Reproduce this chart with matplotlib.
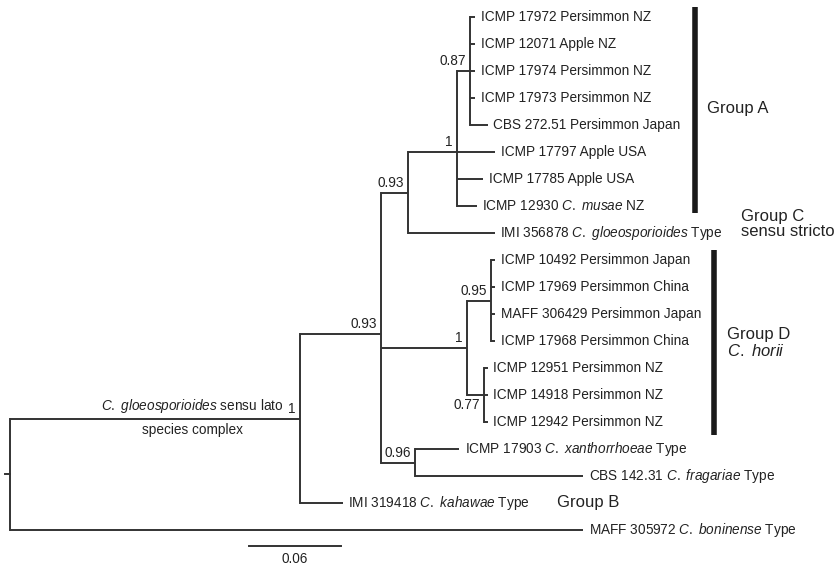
import matplotlib
matplotlib.use('Agg')
import matplotlib.pyplot as plt

plt.rcParams['font.family'] = ['Liberation Sans', 'DejaVu Sans']
plt.rcParams['mathtext.fontset'] = 'custom'
plt.rcParams['mathtext.rm'] = 'Liberation Sans'
plt.rcParams['mathtext.it'] = 'Liberation Sans:italic'
plt.rcParams['mathtext.bf'] = 'Liberation Sans:bold'

# ---- tree data (preorder) ----
node_ids = list(range(30))
parents = [-1, 0, 1, 2, 3, 4, 5, 5, 5, 5, 5, 4, 4, 4, 3, 2, 15, 16, 16, 16, 16,
           15, 21, 21, 21, 2, 25, 25, 1, 0]
branch_lengths = [0.0, 0.1891, 0.0528, 0.0176, 0.0320, 0.0085,
                  0.0033, 0.0033, 0.0033, 0.0033, 0.0117,
                  0.0248, 0.0170, 0.0130, 0.0567,
                  0.0561, 0.0157, 0.0026, 0.0026, 0.0026, 0.0026,
                  0.0111, 0.0026, 0.0026, 0.0026,
                  0.0222, 0.0287, 0.1096, 0.0280, 0.3737]
supports = ['', '1', '0.93', '0.93', '1', '0.87', '', '', '', '', '',
            '', '', '', '', '1', '0.95', '', '', '', '', '0.77', '', '', '',
            '0.96', '', '', '', '']
tip_labels = [None, None, None, None, None, None,
              'ICMP 17972 Persimmon NZ',
              'ICMP 12071 Apple NZ',
              'ICMP 17974 Persimmon NZ',
              'ICMP 17973 Persimmon NZ',
              'CBS 272.51 Persimmon Japan',
              'ICMP 17797 Apple USA',
              'ICMP 17785 Apple USA',
              r'ICMP 12930 $\mathit{C.\ musae}$ NZ',
              r'IMI 356878 $\mathit{C.\ gloeosporioides}$ Type',
              None, None,
              'ICMP 10492 Persimmon Japan',
              'ICMP 17969 Persimmon China',
              'MAFF 306429 Persimmon Japan',
              'ICMP 17968 Persimmon China',
              None,
              'ICMP 12951 Persimmon NZ',
              'ICMP 14918 Persimmon NZ',
              'ICMP 12942 Persimmon NZ',
              None,
              r'ICMP 17903 $\mathit{C.\ xanthorrhoeae}$ Type',
              r'CBS 142.31 $\mathit{C.\ fragariae}$ Type',
              r'IMI 319418 $\mathit{C.\ kahawae}$ Type',
              r'MAFF 305972 $\mathit{C.\ boninense}$ Type']
scale_bar_length = 0.06
scale_bar_label = '0.06'

# ---- layout ----
n = len(node_ids)
children = {i: [] for i in node_ids}
for i in node_ids:
    if parents[i] >= 0:
        children[parents[i]].append(i)
x = [0.0] * n
for i in node_ids:
    if parents[i] >= 0:
        x[i] = x[parents[i]] + branch_lengths[i]
y = [0.0] * n
leaf_counter = 0
for i in node_ids:
    if not children[i]:
        y[i] = leaf_counter
        leaf_counter += 1
for i in reversed(node_ids):
    if children[i]:
        y[i] = sum(y[c] for c in children[i]) / len(children[i])

k = 0.06 / 92.0  # data units per pixel
def px(v):
    return (v - 10) * k

fig = plt.figure(figsize=(8.4, 5.67), dpi=100)
ax = fig.add_axes([0, 0, 1, 1])
ax.set_xlim(px(0), px(840))
ax.set_ylim((567 - 17) / 27.0, -17 / 27.0)
ax.axis('off')

lc = '#333333'
lw = 1.4
tc = '#222222'
fs = 9.8

for i in node_ids:
    p = parents[i]
    if p >= 0:
        ax.plot([x[p], x[i]], [y[i], y[i]], color=lc, lw=lw, solid_capstyle='butt')
    if children[i]:
        ys = [y[c] for c in children[i]]
        ax.plot([x[i], x[i]], [min(ys), max(ys)], color=lc, lw=lw, solid_capstyle='projecting')
    if tip_labels[i]:
        ax.annotate(tip_labels[i], (x[i], y[i]), xytext=(4, 0), textcoords='offset points',
                    ha='left', va='center', fontsize=fs, color=tc)
    if supports[i]:
        below = supports[i] == '0.77'
        ax.annotate(supports[i], (x[i], y[i]), xytext=(-3, -2.5 if below else 2),
                    textcoords='offset points', ha='right',
                    va='top' if below else 'bottom', fontsize=fs, color=tc)

# root stub
ax.plot([x[0] - 5 * k, x[0]], [y[0], y[0]], color=lc, lw=lw)

# complex annotation
ax.text(px(283), (406 - 17) / 27.0, r'$\mathit{C.\ gloeosporioides}$ sensu lato',
        ha='right', va='center', fontsize=fs, color=tc)
ax.text(px(193), (430 - 17) / 27.0, 'species complex',
        ha='center', va='center', fontsize=fs, color=tc)

# group bars
ax.plot([px(695), px(695)], [-0.37, 7.26], color='#1a1a1a', lw=4, solid_capstyle='butt')
ax.plot([px(714), px(714)], [8.63, 15.48], color='#1a1a1a', lw=4, solid_capstyle='butt')

gfs = 12
ax.text(px(707), (108 - 17) / 27.0, 'Group A', ha='left', va='center', fontsize=gfs, color=tc)
ax.text(px(741), (224 - 17) / 27.0, 'Group C\nsensu stricto', ha='left', va='center',
        fontsize=gfs, color=tc, linespacing=1.05)
ax.text(px(727), (343 - 17) / 27.0, 'Group D\n' + r'$\mathit{C.\ horii}$', ha='left',
        va='center', fontsize=gfs, color=tc, linespacing=1.05)
ax.text(px(557), (503 - 17) / 27.0, 'Group B', ha='left', va='center', fontsize=gfs, color=tc)

# scale bar
sb_x0 = px(249)
sb_y = (546 - 17) / 27.0
ax.plot([sb_x0, sb_x0 + scale_bar_length], [sb_y, sb_y], color=lc, lw=lw)
ax.text(sb_x0 + scale_bar_length / 2, (559 - 17) / 27.0, scale_bar_label,
        ha='center', va='center', fontsize=fs, color=tc)

fig.savefig('out.png', dpi=100)
